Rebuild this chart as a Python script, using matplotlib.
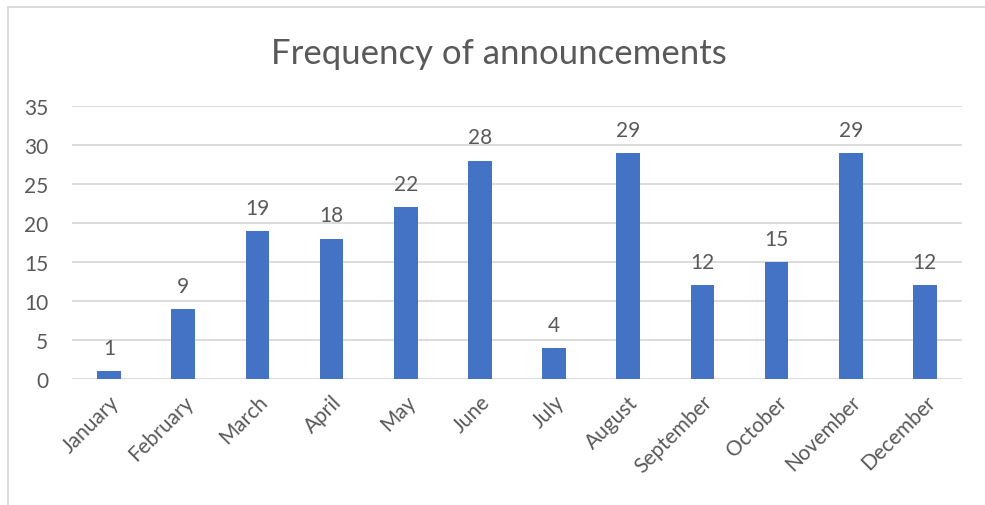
import matplotlib.pyplot as plt
from matplotlib.lines import Line2D

meses = ['January', 'February', 'March', 'April', 'May', 'June', 'July',
         'August', 'September', 'October', 'November', 'December']
anuncios = [1, 9, 19, 18, 22, 28, 4, 29, 12, 15, 29, 12]
ticks_y = [0, 5, 10, 15, 20, 25, 30, 35]

plt.rcParams['font.family'] = ['Lato', 'DejaVu Sans']
gris = '#595959'

fig = plt.figure(figsize=(9.85, 5.06), dpi=100)
ax = fig.add_axes([0.0731, 0.249, 0.9035, 0.5395])

x = range(len(meses))
barras = ax.bar(x, anuncios, width=0.32, color='#4472C4', zorder=3)
for xi, v in zip(x, anuncios):
    ax.annotate(str(v), (xi, v), xytext=(0, 9.5), textcoords='offset points',
                ha='center', va='bottom', fontsize=15, color=gris)

ax.set_xlim(-0.5, len(meses) - 0.5)
ax.set_ylim(0, 35)
ax.set_yticks(ticks_y)
ax.set_yticklabels([str(t) for t in ticks_y], fontsize=15, color=gris)
ax.set_xticks(list(x))
ax.set_xticklabels(meses, rotation=45, ha='right', rotation_mode='anchor',
                   fontsize=15, color=gris)
ax.tick_params(axis='both', length=0)
ax.tick_params(axis='y', pad=17)
ax.tick_params(axis='x', pad=9)
ax.grid(axis='y', color='#D9D9D9', linewidth=1.3, zorder=0)
for s in ax.spines.values():
    s.set_visible(False)

fig.text(0.506, 0.893, 'Frequency of announcements', ha='center', va='center',
         fontsize=25, color=gris)

# marco del grafico (solo se ven borde izquierdo y superior)
fig.lines.append(Line2D([8 / 985, 8 / 985], [0, 1 - 8 / 506], transform=fig.transFigure,
                        color='#D9D9D9', linewidth=1.3))
fig.lines.append(Line2D([8 / 985, 1], [1 - 8 / 506, 1 - 8 / 506], transform=fig.transFigure,
                        color='#D9D9D9', linewidth=1.3))

plt.savefig('out.png', dpi=100)
